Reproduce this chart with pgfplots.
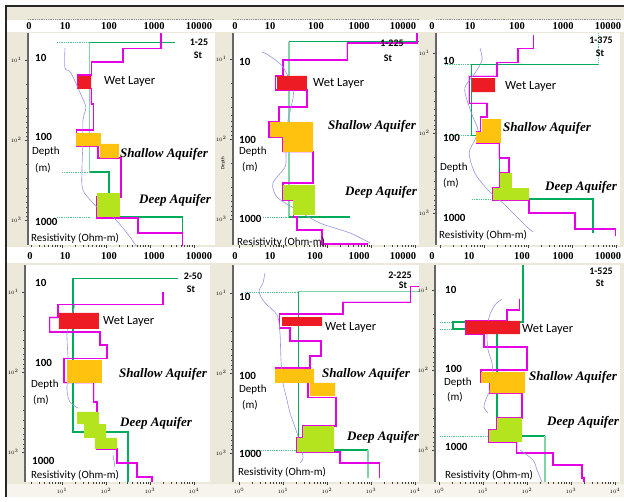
\documentclass[border=0pt]{standalone}
\usepackage{pgfplots}
\pgfplotsset{compat=1.18}
\usepackage{fontspec}
\setmainfont{Carlito}
\newfontfamily\tnr{Liberation Serif}
\definecolor{beige}{RGB}{236,233,218}
\definecolor{wet}{RGB}{237,28,36}
\definecolor{shal}{RGB}{255,194,14}
\definecolor{deep}{RGB}{180,228,30}
\definecolor{magc}{RGB}{230,0,230}
\definecolor{pinkc}{RGB}{250,195,250}
\definecolor{grnc}{RGB}{0,172,90}
\definecolor{grlc}{RGB}{130,212,165}
\definecolor{bluc}{RGB}{150,150,225}
\pgfplotsset{
  every axis/.append style={
    scale only axis,
    axis background/.style={fill=white},
    axis y line*=left, axis x line*=bottom,
    y axis line style={draw=black!60, line width=1.2pt},
    x axis line style={draw=none},
    tick align=outside,
    major tick length=3pt, minor tick length=1.6pt,
    every tick/.style={black!75, line width=0.5pt},
    ytick={10,100,1000}, xtick={1,10,100,1000,10000},
    yticklabel style={font=\fontsize{4.5}{5}\selectfont},
    xticklabel style={font=\fontsize{4.5}{5}\selectfont},
  },
  magl/.style={draw=magc, color=magc, line width=1.1pt},
  magp/.style={draw=pinkc, color=pinkc, line width=2.6pt},
  grl/.style={draw=grnc, color=grnc, line width=1.1pt},
  grll/.style={draw=grlc, color=grlc, line width=1.1pt},
  grd/.style={draw=grnc!70, color=grnc!70, line width=0.8pt, densely dotted},
  bll/.style={draw=bluc, color=bluc, line width=0.6pt, smooth},
}
\newcommand\dnum[3]{\node[anchor=west,inner sep=0pt,font=\bfseries\fontsize{11}{12}\selectfont] at (#1,#2) {#3};}
\newcommand\txt[3]{\node[anchor=west,inner sep=0pt,font=\fontsize{11}{12}\selectfont] at (#1,#2) {#3};}
\newcommand\wlay[2]{\node[anchor=west,inner sep=0pt,font=\fontsize{12.5}{14}\selectfont] at (#1,#2) {Wet Layer};}
\newcommand\aqf[3]{\node[anchor=west,inner sep=0pt,font=\tnr\bfseries\itshape\fontsize{13}{14}\selectfont] at (#1,#2) {#3};}
\newcommand\stn[3]{\node[inner sep=0pt,font=\bfseries\fontsize{10}{11}\selectfont] at (#1,#2) {#3};}
\newcommand\tlab[3]{\node[inner sep=0pt,font=\tnr\bfseries\fontsize{10.5}{11}\selectfont] at (#1,#2) {#3};}
\newcommand\tlabs[6]{\tlab{#2}{#1}{0}\tlab{#3}{#1}{10}\tlab{#4}{#1}{100}\tlab{#5}{#1}{1000}\tlab{#6}{#1}{10000}}
\begin{document}
\begin{tikzpicture}
\begin{scope}[x=1pt,y=-1pt]
\path[use as bounding box] (0,0) rectangle (624,502);
\fill[white] (0,0) rectangle (624,502);
\fill[beige] (7,7) rectangle (624,20);
\fill[beige] (7,32) rectangle (624,247);
\fill[beige] (7,263) rectangle (624,484);
\fill[beige!50] (7,484) rectangle (624,497);
\draw[black!85, line width=1.5pt] (6,497) -- (6,6) -- (624,6);
\foreach \a/\b in {28/215,233/419,436/620}{\draw[black!45, densely dotted, line width=0.8pt] (\a,19) -- (\b,19);}
\end{scope}

% ---------- Panel 1-25 ----------
\begin{axis}[xmode=log, ymode=log, y dir=reverse, at={(28pt,-245pt)}, anchor=south west, width=187pt, height=212pt,
  xmin=1.69, xmax=30000, ymin=4.6, ymax=2054, xticklabels={}]
\addplot[magp] coordinates {(46,23) (46,35.5) (51,35.5)};
\addplot[magp] coordinates {(21,119) (66,119) (66,168)};
\addplot[magp] coordinates {(62.5,516) (62.5,944) (533,944) (533,1454)};
\addplot[grd] coordinates {(7.7,6.1) (43,6.1)};
\addplot[grd] coordinates {(10,251) (43,251)};
\addplot[grd] coordinates {(7.7,917) (43,917)};
\addplot[grll] coordinates {(43,6.1) (43,251)};
\addplot[grl] coordinates {(3700,6.1) (43,6.1)};
\addplot[grl] coordinates {(43,251) (117,251) (117,917) (5600,917) (5600,2100)};
\addplot[magl] coordinates {(1780,4.6) (1780,7.1) (243,7.1) (243,10.6) (46,10.6) (46,15.4) (22,15.4) (22,23) (46,23) (46,35.5) (51,35.5) (51,75) (21,75) (21,119) (66,119) (66,168) (219,168) (219,516) (62.5,516) (62.5,944) (533,944) (533,1454) (5600,1454) (5600,2100)};
\addplot[bll] coordinates {(11.7,7.1) (11.7,12.6) (16,14.5) (28.5,29) (35,38.7) (30,56) (30,100) (28.5,237) (30,422) (62.5,688) (144,917) (300,1454) (506,2180)};
\addplot[fill=wet, draw=none] coordinates {(23,15.8) (46,15.8) (46,23) (23,23) (23,15.8)};
\addplot[fill=shal, draw=none] coordinates {(21,82) (77,82) (77,119) (21,119) (21,82)};
\addplot[fill=shal, draw=none] coordinates {(73,112) (197,112) (197,168) (73,168) (73,112)};
\addplot[fill=deep, draw=none] coordinates {(62.5,460) (208,460) (208,917) (62.5,917) (62.5,460)};
\end{axis}

% ---------- Panel 1-225 ----------
\begin{axis}[xmode=log, ymode=log, y dir=reverse, at={(233pt,-245pt)}, anchor=south west, width=186pt, height=212pt,
  xmin=0.73, xmax=12300, ymin=4.73, ymax=2113, xticklabels={}]
\addplot[magp] coordinates {(285,6.3) (285,10.3) (10,10.3) (10,16.3)};
\addplot[magp] coordinates {(35,24.4) (35,39.8) (8.1,39.8) (8.1,61.3)};
\addplot[magp] coordinates {(10,145) (48,145) (48,355)};
\addplot[grd] coordinates {(3.5,944) (13.7,944)};
\addplot[grll] coordinates {(13.7,6.1) (13.7,944)};
\addplot[grl] coordinates {(12300,6.1) (13.7,6.1)};
\addplot[grl] coordinates {(13.7,944) (333,944)};
\addplot[magl] coordinates {(11100,4.7) (11100,6.3) (285,6.3) (285,10.3) (10,10.3) (10,16.3) (6.6,16.3) (6.6,24.4) (35,24.4) (35,39.8) (8.1,39.8) (8.1,61.3) (4.8,61.3) (4.8,94.4) (10,94.4) (10,145) (48,145) (48,355) (10,355) (10,579) (16.9,579) (16.9,944) (20.8,944) (20.8,1372) (77,1372) (77,2050) (855,2050)};
\addplot[magc, line width=2.2pt] coordinates {(11100,4.7) (11100,6.3)};
\addplot[bll] coordinates {(3.3,8.2) (4.6,8.9) (10,12.6) (16.9,24.4) (16,35.5) (13,57.9) (12.3,84) (11.7,150) (11.1,224) (5.9,355) (7.3,531) (20.8,772) (69,1122) (333,1496) (950,1995)};
\addplot[fill=wet, draw=none] coordinates {(7.3,16.3) (35,16.3) (35,24.4) (7.3,24.4) (7.3,16.3)};
\addplot[fill=shal, draw=none] coordinates {(5.1,61.3) (48,61.3) (48,145) (10,145) (10,94.4) (5.1,94.4) (5.1,61.3)};
\addplot[fill=deep, draw=none] coordinates {(10,376) (53,376) (53,891) (16.9,891) (16.9,579) (10,579) (10,376)};
\end{axis}

% ---------- Panel 1-375 ----------
\begin{axis}[xmode=log, ymode=log, y dir=reverse, at={(436pt,-245pt)}, anchor=south west, width=184pt, height=212pt,
  xmin=0.81, xmax=12300, ymin=5.6, ymax=2512, xticklabels={}]
\addplot[magp] coordinates {(19.7,19.4) (4.6,19.4) (4.6,42.2) (11.7,42.2) (11.7,63) (8.5,63)};
\addplot[magp] coordinates {(6.6,133) (22,133) (22,205) (37,205)};
\addplot[magp] coordinates {(105,1000) (1170,1000) (1170,1585)};
\addplot[grd] coordinates {(3900,5.6) (3900,13.7)};
\addplot[grd] coordinates {(1.3,13.7) (5.3,13.7)};
\addplot[grd] coordinates {(1.3,106) (5.3,106)};
\addplot[grd] coordinates {(5.3,668) (15.2,668)};
\addplot[grl] coordinates {(3900,13.7) (5.3,13.7) (5.3,106) (22,106) (22,668) (3000,668) (3000,1778)};
\addplot[magl] coordinates {(130,6) (130,8.7) (59,8.7) (59,13) (19.7,13) (19.7,19.4) (4.6,19.4) (4.6,42.2) (11.7,42.2) (11.7,63) (8.5,63) (8.5,97) (6.6,97) (6.6,133) (22,133) (22,205) (37,205) (37,316) (23,316) (23,487) (16,487) (16,688) (105,688) (105,1000) (1170,1000) (1170,1585) (9500,1585) (9500,1940)};
\addplot[bll] coordinates {(8.1,8.7) (9,12.2) (6.2,17.8) (3.7,26.6) (4.1,38.7) (5.6,63) (7.3,91.7) (6.2,122) (4.6,178) (6.2,316) (12.3,516) (27,750) (56,1122) (95,1496) (130,1728)};
\addplot[fill=wet, draw=none] coordinates {(5.3,20.5) (17.8,20.5) (17.8,30.7) (5.3,30.7) (5.3,20.5)};
\addplot[fill=shal, draw=none] coordinates {(9,67) (24.3,67) (24.3,133) (6.6,133) (6.6,97) (9,97) (9,67)};
\addplot[fill=deep, draw=none] coordinates {(23,316) (43,316) (43,487) (105,487) (105,688) (16,688) (16,487) (23,487) (23,316)};
\end{axis}

% ---------- Panel 2-50 ----------
\begin{axis}[xmode=log, ymode=log, y dir=reverse, at={(25pt,-482pt)}, anchor=south west, width=185pt, height=217pt,
  xmin=1.44, xmax=23100, ymin=4.6, ymax=2371]
\addplot[magp] coordinates {(8.1,21) (5.3,21) (5.3,31.6) (73,31.6) (73,46) (105,46)};
\addplot[magp] coordinates {(11.1,137) (53,137) (53,237)};
\addplot[magp] coordinates {(178,1372) (506,1372) (506,2054)};
\addplot[grl] coordinates {(4330,6.7) (17.8,6.7) (17.8,562) (316,562) (316,2371)};
\addplot[magl] coordinates {(1970,10) (1970,14.5) (8.1,14.5) (8.1,21) (5.3,21) (5.3,31.6) (73,31.6) (73,46) (105,46) (105,67) (11.1,67) (11.1,137) (53,137) (53,237) (62.5,237) (62.5,917) (178,917) (178,1372) (506,1372) (506,2054) (1110,2054) (1110,2371)};
\addplot[bll] coordinates {(19.7,14.5) (16.9,19.4) (13,32.5) (13.7,71) (13,168) (15.2,237) (23,282)};
\addplot[bll] coordinates {(144,1090) (160,1540)};
\addplot[fill=wet, draw=none] coordinates {(8.5,18.3) (69,18.3) (69,29) (8.5,29) (8.5,18.3)};
\addplot[fill=shal, draw=none] coordinates {(13,71) (81,71) (81,137) (13,137) (13,71)};
\addplot[fill=deep, draw=none] coordinates {(22,316) (69,316) (69,447) (100,447) (100,668) (178,668) (178,917) (56,917) (56,668) (31.6,668) (31.6,447) (22,447) (22,316)};
\end{axis}

% ---------- Panel 2-225 ----------
\begin{axis}[xmode=log, ymode=log, y dir=reverse, at={(233pt,-482pt)}, anchor=south west, width=186pt, height=217pt,
  xmin=0.73, xmax=12300, ymin=4.47, ymax=2304]
\addplot[magp] coordinates {(7700,13) (231,13) (231,18.3)};
\addplot[magp] coordinates {(14.4,27.4) (14.4,39.8) (73,39.8) (73,61.3) (41,61.3) (41,86.6)};
\addplot[magp] coordinates {(20.8,972) (197,972) (197,1334)};
\addplot[grd] coordinates {(1.37,9.7) (22,9.7)};
\addplot[grd] coordinates {(1.37,917) (22,917)};
\addplot[grll] coordinates {(12300,9.7) (22,9.7)};
\addplot[grl] coordinates {(22,9.7) (22,917) (855,917)};
\addplot[grll] coordinates {(855,917) (855,2054)};
\addplot[magl] coordinates {(12300,8.4) (7700,8.4) (7700,13) (231,13) (231,18.3) (8.5,18.3) (8.5,27.4) (14.4,27.4) (14.4,39.8) (73,39.8) (73,61.3) (41,61.3) (41,86.6) (6.6,86.6) (6.6,133) (37,133) (37,200) (160,200) (160,460) (28.5,460) (28.5,649) (20.8,649) (20.8,972) (197,972) (197,1334) (1590,1334) (1590,2054)};
\addplot[bll] coordinates {(3.9,5.6) (3.5,7.5) (2.85,9.7) (3.9,13.3) (7.3,18.8) (8.5,30.7) (9,69) (10,133) (12.3,217) (14.4,316) (18.7,473) (22,631) (28.5,1122) (24.3,1334)};
\addplot[fill=wet, draw=none] coordinates {(9.5,20) (77,20) (77,25.8) (9.5,25.8) (9.5,20)};
\addplot[fill=shal, draw=none] coordinates {(6.6,89) (51,89) (51,133) (6.6,133) (6.6,89)};
\addplot[fill=shal, draw=none] coordinates {(41,133) (152,133) (152,194) (41,194) (41,133)};
\addplot[fill=deep, draw=none] coordinates {(28.5,460) (144,460) (144,972) (20.8,972) (20.8,649) (28.5,649) (28.5,460)};
\end{axis}

% ---------- Panel 1-525 ----------
\begin{axis}[xmode=log, ymode=log, y dir=reverse, at={(435pt,-482pt)}, anchor=south west, width=185pt, height=217pt,
  xmin=0.81, xmax=13000, ymin=4.87, ymax=2512]
\addplot[magp] coordinates {(10.5,35.5) (10.5,51.6) (100,51.6) (100,100)};
\addplot[magp] coordinates {(14.4,194) (77,194) (77,398)};
\addplot[magp] coordinates {(59,794) (59,1090) (390,1090)};
\addplot[grd] coordinates {(1.05,25.1) (2.08,25.1)};
\addplot[grd] coordinates {(1.05,30.7) (2.08,30.7)};
\addplot[grd] coordinates {(1.05,668) (13.7,668)};
\addplot[grl] coordinates {(81,4.87) (81,25.1) (2.08,25.1) (2.08,30.7) (20.8,30.7) (20.8,668) (256,668)};
\addplot[grll] coordinates {(256,668) (256,2512)};
\addplot[magl] coordinates {(69,13) (69,17.8) (35,17.8) (35,24.4) (4.1,24.4) (4.1,35.5) (10.5,35.5) (10.5,51.6) (100,51.6) (100,100) (9,100) (9,145) (14.4,145) (14.4,194) (77,194) (77,398) (20.8,398) (20.8,562) (13.7,562) (13.7,794) (59,794) (59,1090) (390,1090) (390,1540) (1780,1540) (1780,2239) (1970,2239) (1970,2512)};
\addplot[bll] coordinates {(27,13) (18.7,15.4) (13.7,21.8) (12.3,34.5) (13,56) (16,82) (16.9,145) (12.3,217) (10.5,290) (13,345)};
\addplot[bll] coordinates {(69,1000) (137,1334) (169,1778) (219,2512)};
\addplot[fill=wet, draw=none] coordinates {(4.1,24.4) (69,24.4) (69,35.5) (4.1,35.5) (4.1,24.4)};
\addplot[fill=shal, draw=none] coordinates {(9,106) (90,106) (90,194) (14.4,194) (14.4,145) (9,145) (9,106)};
\addplot[fill=deep, draw=none] coordinates {(20.8,398) (77,398) (77,794) (13.7,794) (13.7,562) (20.8,562) (20.8,398)};
\end{axis}

\begin{scope}[x=1pt,y=-1pt]
\tlabs{26}{29}{65}{109}{154}{199}
\tlabs{26}{235}{270}{316}{359}{403}
\tlabs{26}{432}{470}{517}{563}{608}
\tlabs{256}{30}{65}{109}{154}{199}
\tlabs{256}{235}{270}{315}{359}{403}
\tlabs{256}{432}{469}{522}{563}{608}
% panel 1
\stn{199}{42}{1-25}\stn{198}{55}{St}
\dnum{35}{58}{10}\dnum{35}{137}{100}\txt{32}{152}{Depth}\txt{35}{168}{(m)}\dnum{35}{222}{1000}
\txt{31}{238}{Resistivity (Ohm-m)}
\wlay{104}{82}\aqf{120}{154}{Shallow Aquifer}\aqf{139}{200}{Deep Aquifer}
% panel 2
\stn{392}{43}{1-225}\stn{388}{58}{St}
\dnum{239}{62}{10}\dnum{239}{140}{100}\txt{239}{152}{Depth}\txt{242}{167}{(m)}\dnum{239}{219}{1000}
\txt{237}{242}{Resistivity (Ohm-m)}
\wlay{313}{84}\aqf{328}{126}{Shallow Aquifer}\aqf{345}{192}{Deep Aquifer}
\node[rotate=90, inner sep=0pt, font=\fontsize{5}{6}\selectfont] at (223,163) {Depth};
% panel 3
\stn{601}{40}{1-375}\stn{600}{53}{St}
\dnum{443}{61}{10}\dnum{443}{138}{100}\txt{440}{168}{Depth}\txt{443}{183}{(m)}\dnum{443}{218}{1000}
\txt{439}{235}{Resistivity (Ohm-m)}
\wlay{505}{87}\aqf{503}{128}{Shallow Aquifer}\aqf{545}{187}{Deep Aquifer}
% panel 4
\stn{193}{276}{2-50}\stn{191}{289}{St}
\dnum{35}{283}{10}\dnum{35}{363}{100}\txt{31}{385}{Depth}\txt{33}{400}{(m)}\dnum{32}{461}{1000}
\txt{31}{475}{Resistivity (Ohm-m)}
\wlay{103}{321}\aqf{119}{374}{Shallow Aquifer}\aqf{120}{423}{Deep Aquifer}
% panel 5
\stn{400}{275}{2-225}\stn{403}{285}{St}
\dnum{239}{297}{10}\dnum{239}{376}{100}\txt{239}{390}{Depth}\txt{242}{405}{(m)}\dnum{239}{454}{1000}
\txt{238}{472}{Resistivity (Ohm-m)}
\wlay{325}{327}\aqf{322}{374}{Shallow Aquifer}\aqf{347}{437}{Deep Aquifer}
% panel 6
\stn{601}{271}{1-525}\stn{600}{283}{St}
\dnum{445}{290}{10}\dnum{445}{369}{100}\txt{444}{383}{Depth}\txt{447}{397}{(m)}\dnum{445}{447}{1000}
\txt{445}{475}{Resistivity (Ohm-m)}
\wlay{522}{329}\aqf{529}{377}{Shallow Aquifer}\aqf{547}{422}{Deep Aquifer}
\end{scope}
\end{tikzpicture}
\end{document}
